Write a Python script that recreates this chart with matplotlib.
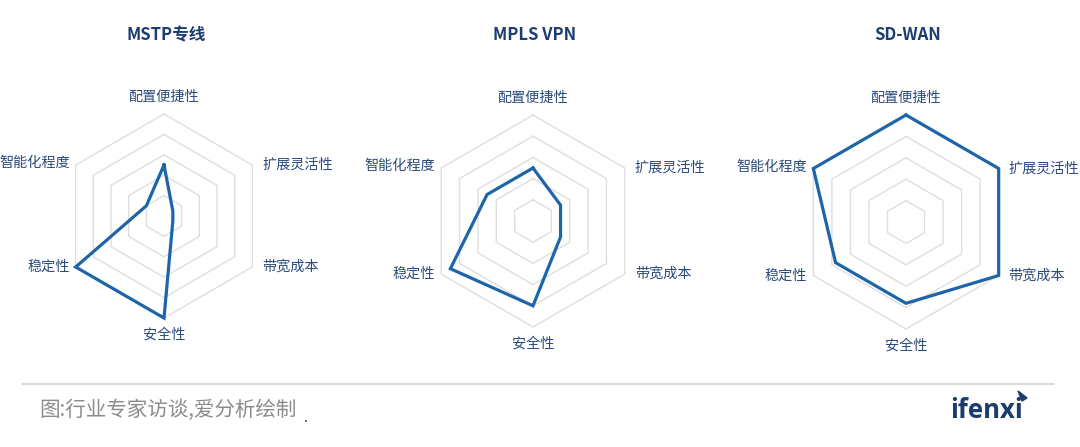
import numpy as np
import matplotlib
matplotlib.use("Agg")
import matplotlib.pyplot as plt
from matplotlib.patches import Polygon

plt.rcParams['font.family'] = ['Noto Sans CJK SC', 'DejaVu Sans']

# --- data ---
dims = ["配置便捷性", "扩展灵活性", "带宽成本", "安全性", "稳定性", "智能化程度"]
titles = ["MSTP专线", "MPLS VPN", "SD-WAN"]
mstp = [2.5, 0.5, 0.5, 5.0, 5.0, 1.0]
mpls = [2.5, 1.5, 1.5, 4.0, 4.5, 2.5]
sdwan = [5.0, 5.0, 5.0, 3.8, 3.8, 5.0]
series = [mstp, mpls, sdwan]
rings = [1, 2, 3, 4, 5]
rmax = 5

LINE = "#1d65a8"
LABEL = "#2a4b7c"
TITLE = "#1b3d70"
GRID = "#dedede"

W, H = 1080, 447
PT = 0.72  # px -> pt at dpi 100
fig = plt.figure(figsize=(W / 100, H / 100), dpi=100)

# chart centers / radius in pixels
centers = [(164, 216, 102), (533, 221, 106), (906, 222, 107)]
title_x = [166, 535, 908]

n = len(dims)
ang = np.pi / 2 - np.arange(n) * 2 * np.pi / n   # clockwise from top
ang_c = np.append(ang, ang[0])

for i, (cx, cy, r) in enumerate(centers):
    ax = fig.add_axes([(cx - r) / W, (H - cy - r) / H, 2 * r / W, 2 * r / H],
                      projection="polar")
    ax.set_ylim(0, rmax)
    ax.grid(False)
    ax.spines["polar"].set_visible(False)
    ax.set_xticks([])
    ax.set_yticks([])
    ax.patch.set_alpha(0)

    for k in rings:
        ax.plot(ang_c, [k] * (n + 1), color=GRID, lw=1.0, clip_on=False, zorder=1)

    vals = series[i] + series[i][:1]
    ax.plot(ang_c, vals, color=LINE, lw=2.3, clip_on=False, zorder=3,
            solid_joinstyle="miter")

    for a, lab in zip(ang, dims):
        c, s = np.cos(a), np.sin(a)
        if abs(c) < 0.1:
            ha = "center"
            off = (0, 17) if s > 0 else (0, -17)
        elif c > 0:
            ha = "left"
            off = (10, 0)
        else:
            ha = "right"
            off = (-6, 2 if s > 0 else 0)
        ax.annotate(lab, (a, rmax), xytext=(off[0] * PT, off[1] * PT),
                    textcoords="offset points", ha=ha, va="center",
                    fontsize=10.2, color=LABEL, annotation_clip=False)

    fig.text(title_x[i] / W, 1 - 35 / H, titles[i], ha="center", va="center",
             fontsize=12, fontweight="bold", color=TITLE)

# footer
fig.add_artist(plt.Line2D([22 / W, 1054 / W], [1 - 384 / H] * 2, color="#d4d4d4", lw=1.2))
fig.text(39 / W, 1 - 410 / H, "图:行业专家访谈,爱分析绘制", ha="left", va="center",
         fontsize=14.8, color="#8c8c8c")
fig.text(306 / W, 1 - 418 / H, ".", ha="center", va="center", fontsize=10, color="#222222")

fig.text(986 / W, 1 - 410 / H, "ifenxi", ha="center", va="center", fontsize=18.5,
         fontweight="bold", color="#1d3c6e", family=["Open Sans", "DejaVu Sans"])
fig.add_artist(Polygon([[1018 / W, 1 - 391 / H], [1027 / W, 1 - 398 / H], [1022 / W, 1 - 401 / H]],
                       closed=True, transform=fig.transFigure, color="#1d3c6e"))

fig.savefig("out.png", dpi=100, facecolor="white")
